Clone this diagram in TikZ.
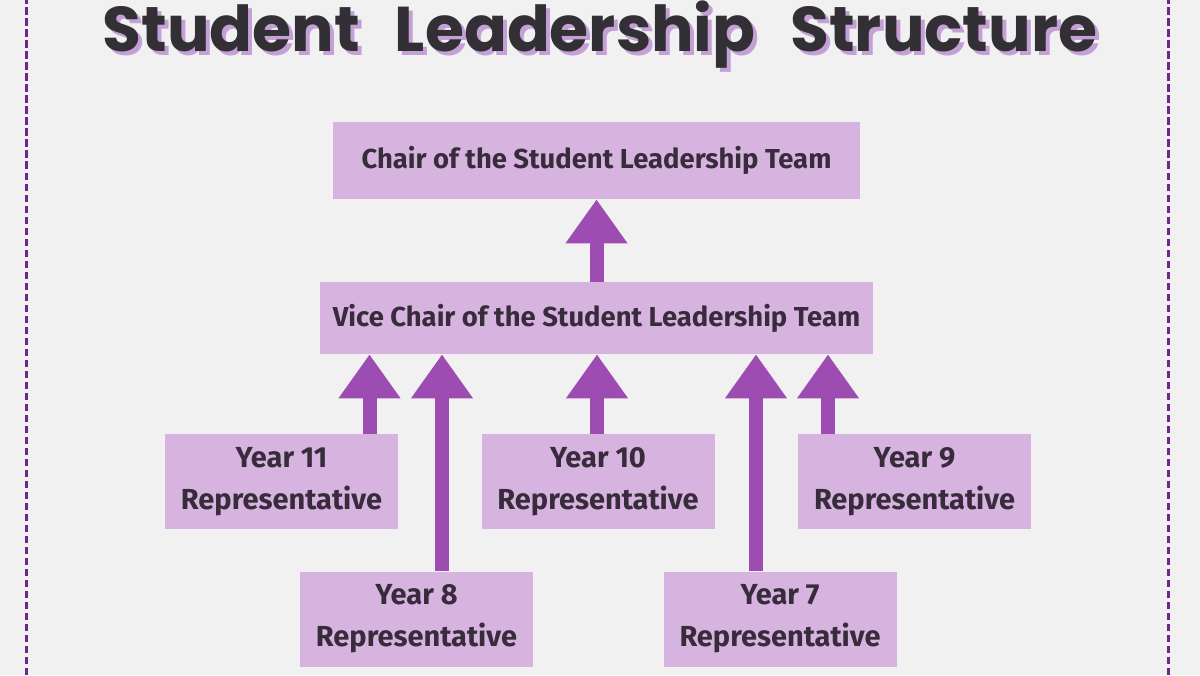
\documentclass[tikz,border=0pt]{standalone}
\usepackage{fontspec}
\setmainfont{Fira Sans}
\newfontfamily\titlefont{Poppins}
\usepackage{xcolor}
\usetikzlibrary{arrows.meta, positioning, calc}
\definecolor{paper}{RGB}{242,241,242}
\definecolor{boxfill}{RGB}{215,180,223}
\definecolor{arrowcolor}{RGB}{157,76,178}
\definecolor{textdark}{RGB}{55,43,60}
\definecolor{titledark}{RGB}{50,48,52}
\definecolor{titleshade}{RGB}{196,160,214}
\definecolor{dashcolor}{RGB}{112,36,140}
\newcommand{\gap}{\hspace{0.55em}}

\begin{document}
\begin{tikzpicture}[
    rep/.style={fill=boxfill, minimum width=4.66cm, minimum height=1.9cm, inner sep=0pt, font=\bfseries\fontsize{16.5}{24}\selectfont, text=textdark, align=center},
    lead/.style={rep, minimum height=1.5cm, font=\bfseries\fontsize{15.6}{20}\selectfont},
    heading/.style={font=\titlefont\bfseries\fontsize{36}{40}\selectfont, anchor=base},
    uparrow/.style={arrowcolor, line width=0.28cm, -{Triangle[width=1.18cm, length=0.88cm]}},
    border/.style={dashcolor, line width=0.06cm, dash pattern=on 0.15cm off 0.07cm}
]
    % Paper and side borders
    \fill[paper] (0,0) rectangle (24,13.5);
    \useasboundingbox (0,0) rectangle (24,13.5);
    \draw[border] (0.52,0) -- (0.52,13.5);
    \draw[border] (23.36,0) -- (23.36,13.5);

    % Title with shadow
    \node[heading, text=titleshade] (titleshadow) at (12.08,12.38) {Student\gap Leadership\gap Structure};
    \node[heading, text=titledark] (title) at (12,12.46) {Student\gap Leadership\gap Structure};

    % Leadership
    \node[lead, minimum width=10.54cm, minimum height=1.54cm] (chair) at (11.93,10.29) {Chair of the Student Leadership Team};
    \node[lead, minimum width=11.06cm, minimum height=1.44cm] (vice) at (11.93,7.14) {Vice Chair of the Student Leadership Team};

    % Year representatives
    \node[rep] (y11) at (5.63,3.87) {Year 11\\Representative};
    \node[rep] (y10) at (11.96,3.87) {Year 10\\Representative};
    \node[rep] (y9) at (18.29,3.87) {Year 9\\Representative};
    \node[rep] (y8) at (8.33,1.12) {Year 8\\Representative};
    \node[rep] (y7) at (15.6,1.12) {Year 7\\Representative};

    % Arrow start points
    \coordinate (a11) at ($(y11.north)+(1.76,0)$);
    \coordinate (a10) at ($(y10.north)+(-0.02,0)$);
    \coordinate (a9) at ($(y9.north)+(-1.73,0)$);
    \coordinate (a8) at ($(y8.north)+(0.51,0)$);
    \coordinate (a7) at ($(y7.north)+(-0.48,0)$);

    % Connections
    \draw[uparrow] (vice.north) -- (chair.south);
    \draw[uparrow] (a11) -- (a11 |- vice.south);
    \draw[uparrow] (a10) -- (a10 |- vice.south);
    \draw[uparrow] (a9) -- (a9 |- vice.south);
    \draw[uparrow] (a8) -- (a8 |- vice.south);
    \draw[uparrow] (a7) -- (a7 |- vice.south);
\end{tikzpicture}
\end{document}
